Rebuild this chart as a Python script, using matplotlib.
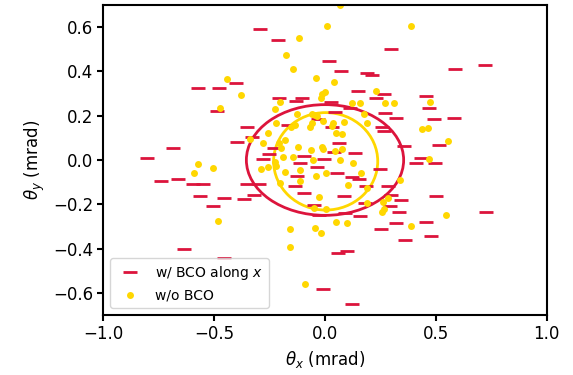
import matplotlib
matplotlib.use('Agg')
import matplotlib.pyplot as plt
from matplotlib.patches import Ellipse

# w/ BCO along x (red dashes)
bco_x = [-0.402, -0.573, -0.479, -0.293, -0.212, 0.298, 0.018, 0.072, 0.190, 0.212,
         0.149, 0.230, 0.266, -0.208, -0.104, -0.131, 0.025, 0.587, 0.722, 0.456,
         0.470, 0.271, 0.321, 0.492, 0.582, 0.257, 0.266, 0.357, 0.515, 0.433,
         0.411, 0.497, 0.250, 0.284, 0.501, 0.300, 0.343, 0.293, 0.334, 0.727,
         0.321, 0.456, 0.253, 0.479, 0.361, 0.158, 0.059, 0.099, -0.009, 0.122,
         -0.506, -0.637, -0.456, -0.488, -0.352, -0.330, -0.397, -0.686, -0.804, -0.740,
         -0.664, -0.596, -0.551, -0.564, -0.456, -0.366, -0.321, 0.047, 0.114, 0.032,
         -0.167, -0.232, 0.062, 0.041, 0.134, -0.253, -0.096, -0.006, -0.280, -0.111,
         -0.036, -0.126, 0.054, 0.122, 0.152, -0.352, -0.298, -0.137, 0.185, -0.096,
         0.087, -0.051, 0.182, -0.028, 0.090, -0.030]
bco_y = [0.346, 0.324, 0.324, 0.590, 0.541, 0.500, 0.446, 0.400, 0.391, 0.383,
         0.310, 0.279, 0.297, 0.279, 0.279, 0.265, 0.262, 0.410, 0.428, 0.288,
         0.233, 0.211, 0.188, 0.184, 0.188, 0.150, 0.131, 0.062, 0.066, 0.008,
         -0.015, -0.015, -0.042, -0.119, -0.164, -0.160, -0.182, -0.209, -0.236, -0.236,
         -0.286, -0.281, -0.313, -0.345, -0.363, -0.254, -0.422, -0.413, -0.584, -0.652,
         -0.208, -0.403, -0.444, 0.220, 0.148, 0.102, 0.080, 0.053, 0.008, -0.096,
         -0.087, -0.110, -0.110, -0.164, -0.173, -0.178, -0.158, 0.218, 0.233, 0.148,
         0.158, 0.053, 0.075, 0.035, 0.030, 0.027, 0.018, 0.003, 0.003, -0.015,
         -0.033, -0.072, -0.060, -0.078, -0.087, -0.108, -0.108, -0.117, -0.117, -0.151,
         -0.163, -0.203, -0.193, -0.248, -0.241, 0.183]

# w/o BCO (gold dots)
nobco_x = [-0.444, -0.381, -0.474, 0.068, 0.011, -0.119, -0.175, -0.146, -0.041, 0.042,
           0.230, 0.001, -0.012, -0.018, 0.387, 0.476, 0.271, 0.312, 0.438, 0.464,
           0.555, 0.470, 0.339, 0.284, 0.262, 0.266, 0.257, 0.545, 0.388, -0.158,
           -0.045, -0.018, 0.051, 0.099, -0.158, -0.089, -0.484, -0.340, -0.573, -0.507,
           -0.590, -0.202, 0.120, 0.158, -0.226, -0.128, -0.059, -0.045, -0.038, 0.178,
           0.188, 0.087, 0.038, 0.032, -0.009, -0.059, -0.068, -0.153, -0.135, -0.223,
           -0.256, 0.048, 0.078, -0.181, -0.206, -0.200, -0.279, -0.120, -0.015, -0.008,
           -0.065, 0.045, 0.075, -0.188, -0.143, -0.053, -0.224, 0.068, 0.128, -0.289,
           -0.259, -0.221, -0.181, -0.113, -0.041, 0.005, 0.163, -0.113, -0.203, 0.105,
           0.188, -0.027, 0.188, -0.050, 0.005]
nobco_y = [0.364, 0.292, 0.233, 0.700, 0.605, 0.551, 0.474, 0.411, 0.372, 0.351,
           0.313, 0.306, 0.297, 0.280, 0.605, 0.263, 0.256, 0.256, 0.139, 0.145,
           0.086, 0.006, -0.090, -0.170, -0.190, -0.220, -0.233, -0.248, -0.300, -0.312,
           -0.307, -0.331, -0.280, -0.286, -0.394, -0.562, -0.276, 0.093, -0.020, -0.035,
           -0.057, 0.263, 0.256, 0.259, 0.230, 0.208, 0.208, 0.203, 0.199, 0.206,
           0.166, 0.173, 0.166, 0.154, 0.178, 0.166, 0.150, 0.150, 0.158, 0.168,
           0.120, 0.120, 0.116, 0.090, 0.075, 0.053, 0.075, 0.060, 0.060, 0.050,
           0.045, 0.041, 0.050, 0.015, 0.015, 0.000, -0.008, 0.000, -0.012, -0.042,
           -0.033, -0.027, -0.056, -0.045, -0.072, -0.060, -0.060, -0.093, -0.102, -0.113,
           -0.128, -0.169, -0.196, -0.218, -0.223]

# rms ellipses: (centre x, centre y, full width, full height)
ell_bco = (0.0, 0.0, 0.71, 0.50)
ell_nobco = (0.003, -0.006, 0.47, 0.44)

fig = plt.figure(figsize=(5.73, 3.75), dpi=100)
ax = fig.add_axes([0.1806, 0.16, 0.7732, 0.8267])

ax.plot(bco_x, bco_y, '_', color='crimson', markersize=10, markeredgewidth=2,
        label='w/ BCO along $x$')
ax.plot(nobco_x, nobco_y, 'o', color='gold', markersize=5, markeredgewidth=0,
        label='w/o BCO')

cx, cy, w, h = ell_bco
ax.add_patch(Ellipse((cx, cy), w, h, fill=False, edgecolor='crimson', lw=2))
cx, cy, w, h = ell_nobco
ax.add_patch(Ellipse((cx, cy), w, h, fill=False, edgecolor='gold', lw=2))

ax.set_xlim(-1, 1)
ax.set_ylim(-0.7, 0.7)
ax.set_xticks([-1.0, -0.5, 0.0, 0.5, 1.0])
ax.set_yticks([-0.6, -0.4, -0.2, 0.0, 0.2, 0.4, 0.6])
ax.tick_params(labelsize=12, width=1.5, length=4)
for s in ax.spines.values():
    s.set_linewidth(1.5)
ax.set_xlabel(r'$\theta_x$ (mrad)', fontsize=12)
ax.set_ylabel(r'$\theta_y$ (mrad)', fontsize=12)
ax.legend(loc='lower left', fontsize=10)

fig.savefig('out.png', dpi=100)
